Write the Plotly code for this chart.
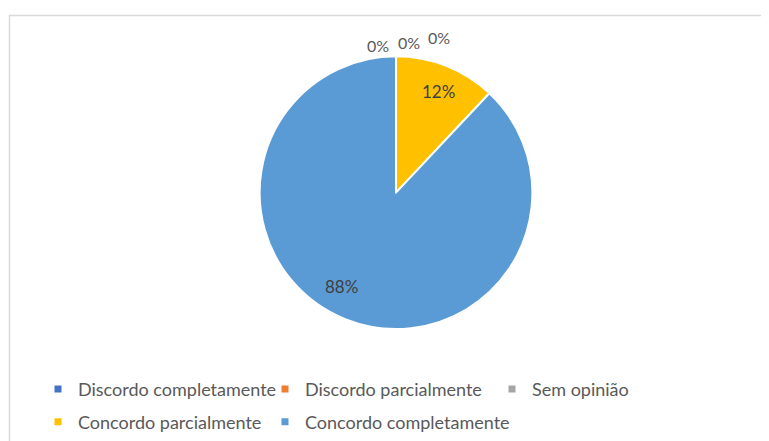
import plotly.graph_objects as go

categories = ["Discordo completamente", "Discordo parcialmente", "Sem opinião",
              "Concordo parcialmente", "Concordo completamente"]
values = [0, 0, 0, 12, 88]
colors = ["#4472C4", "#ED7D31", "#A5A5A5", "#FFC000", "#5B9BD5"]

# page has an 8px body margin; figure sized to fit the 769x441 window
OFF = 8
W, H = 769 - OFF, 441 - OFF
FONT = "Lato"
TXT = "#404040"
LEG = "#595959"


def X(sx):
    return (sx - OFF) / W


def Y(sy):
    return 1 - (sy - OFF) / H


total = sum(values)
pct_text = [f"{round(v / total * 100)}%" for v in values]

cx, cy, r = 396, 193.5, 137

fig = go.Figure()
fig.add_trace(go.Pie(
    labels=categories, values=values, sort=False, direction="clockwise", rotation=0,
    marker=dict(colors=colors, line=dict(color="white", width=2)),
    textinfo="none",
    domain=dict(x=[X(cx - r), X(cx + r)], y=[Y(cy + r), Y(cy - r)]),
    showlegend=False, hoverinfo="label+percent",
))

# legend entries (two rows, as in the original)
for i, (cat, col) in enumerate(zip(categories, colors)):
    fig.add_trace(go.Scatter(
        x=[None], y=[None], mode="markers", name=cat,
        marker=dict(symbol="square", size=7, color=col),
        legend="legend" if i < 3 else "legend2",
    ))
# blank spacer entry so the second row is not clipped
fig.add_trace(go.Scatter(x=[None], y=[None], mode="markers", name=" ",
                         marker=dict(symbol="square", size=7, color="rgba(0,0,0,0)"),
                         legend="legend2", hoverinfo="skip"))

# data-label placement (screen px), one per slice, as Excel placed them
label_pos = [(378, 46), (409, 43), (439, 38), (438, 92), (341, 288)]
for t, (px, py), v in zip(pct_text, label_pos, values):
    fig.add_annotation(x=X(px), y=Y(py), xref="paper", yref="paper",
                       xanchor="center", yanchor="middle",
                       text=t, showarrow=False,
                       font=dict(family=FONT, size=17 if v > 0 else 16,
                                 color=TXT if v > 0 else LEG))

leg_common = dict(orientation="h", xanchor="left", yanchor="middle",
                  font=dict(family=FONT, size=18, color=LEG),
                  entrywidth=182, entrywidthmode="pixels",
                  bgcolor="rgba(0,0,0,0)", borderwidth=0, itemwidth=30)

fig.update_layout(
    width=W, height=H,
    margin=dict(l=0, r=0, t=0, b=0),
    paper_bgcolor="white", plot_bgcolor="white",
    xaxis=dict(visible=False), yaxis=dict(visible=False),
    legend=dict(x=X(38), y=Y(391), **leg_common),
    legend2=dict(x=X(38), y=Y(424), **leg_common),
    shapes=[dict(type="rect", xref="paper", yref="paper",
                 x0=X(9.5), x1=1.05, y0=-0.05, y1=Y(15.5),
                 line=dict(color="#D9D9D9", width=1.5), fillcolor="rgba(0,0,0,0)")],
)

fig.write_html("out.html")
